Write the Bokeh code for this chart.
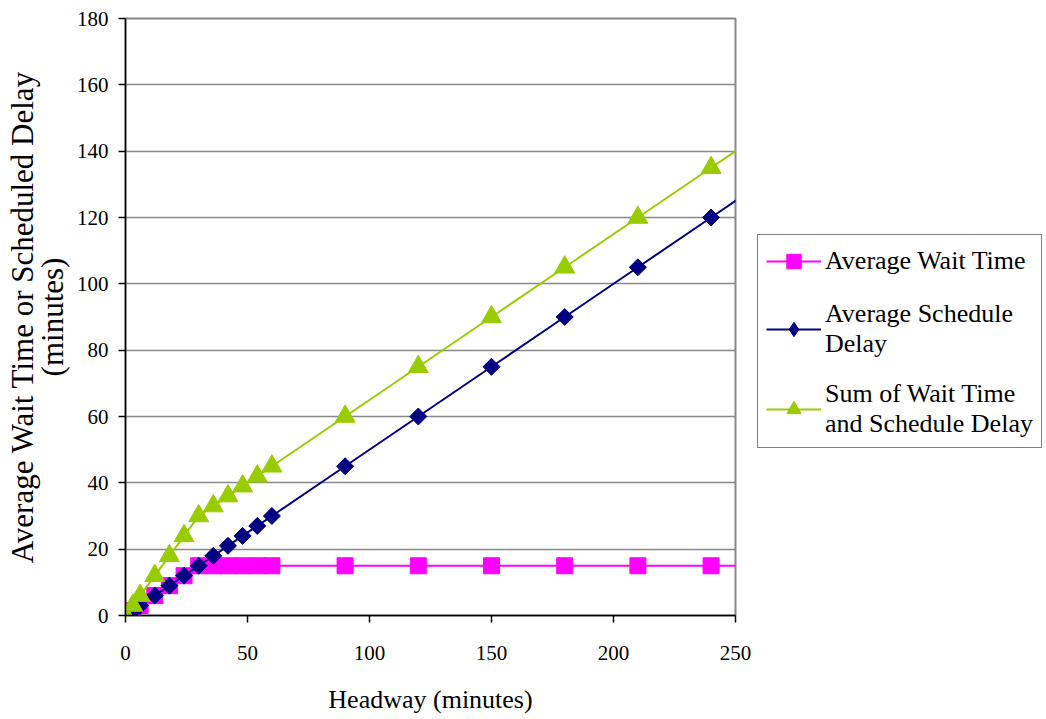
import math
from bokeh.plotting import figure
from bokeh.models import Range1d, Legend, LegendItem, FixedTicker
from bokeh.embed import file_html
from bokeh.resources import INLINE

headway = [0, 3, 6, 12, 18, 24, 30, 36, 42, 48, 54, 60, 90, 120, 150, 180, 210, 240, 270]
avg_wait = [0, 1.5, 3, 6, 9, 12, 15, 15, 15, 15, 15, 15, 15, 15, 15, 15, 15, 15, 15]
avg_delay = [0, 1.5, 3, 6, 9, 12, 15, 18, 21, 24, 27, 30, 45, 60, 75, 90, 105, 120, 135]
sum_total = [0, 3, 6, 12, 18, 24, 30, 33, 36, 39, 42, 45, 60, 75, 90, 105, 120, 135, 150]

x_ticks = [0, 50, 100, 150, 200, 250]
y_ticks = [0, 20, 40, 60, 80, 100, 120, 140, 160, 180]

FONT = "Liberation Serif"

p = figure(frame_width=610, frame_height=597, output_backend="svg", toolbar_location=None,
           x_range=Range1d(0, 250), y_range=Range1d(0, 180),
           min_border_left=125, min_border_right=307, min_border_top=18, min_border_bottom=96)
p.background_fill_color = "white"
p.border_fill_color = "white"
p.outline_line_color = "#888888"
p.outline_line_width = 2

p.xgrid.visible = False
p.ygrid.grid_line_color = "#888888"
p.ygrid.grid_line_width = 1.5
p.ygrid.ticker = FixedTicker(ticks=y_ticks)

for ax in (p.xaxis[0], p.yaxis[0]):
    ax.axis_line_color = "black"
    ax.axis_line_width = 1.5
    ax.major_tick_line_color = "black"
    ax.major_tick_line_width = 1.5
    ax.major_tick_in = 0
    ax.major_tick_out = 7
    ax.minor_tick_line_color = None
    ax.major_label_text_font = FONT
    ax.major_label_text_font_size = "21px"
    ax.major_label_text_color = "black"
    ax.axis_label_text_font = FONT
    ax.axis_label_text_font_style = "normal"
    ax.axis_label_text_color = "black"

p.xaxis.ticker = FixedTicker(ticks=x_ticks)
p.yaxis.ticker = FixedTicker(ticks=y_ticks)
p.xaxis.major_label_standoff = 23
p.yaxis.major_label_standoff = 10
p.xaxis.axis_label = "Headway (minutes)"
p.xaxis.axis_label_text_font_size = "26px"
p.xaxis.axis_label_standoff = 22
p.yaxis.axis_label = "Average Wait Time or Scheduled Delay\n(minutes)"
p.yaxis.axis_label_text_font_size = "31px"
p.yaxis.axis_label_text_line_height = 0.87
p.yaxis.axis_label_standoff = 4

PINK = "#FF00FF"
NAVY = "#000080"
GREEN = "#99CC00"

l1 = p.line(headway, avg_wait, line_color=PINK, line_width=2)
m1 = p.scatter(headway, avg_wait, marker="square", size=16, fill_color=PINK, line_color=PINK)
l2 = p.line(headway, avg_delay, line_color=NAVY, line_width=2)
m2 = p.scatter(headway, avg_delay, marker="square", angle=math.pi / 4, size=12,
               fill_color=NAVY, line_color=NAVY)
l3 = p.line(headway, sum_total, line_color=GREEN, line_width=2)
m3 = p.scatter(headway, sum_total, marker="triangle", size=20, fill_color=GREEN, line_color=GREEN)
# legend-only icon for the diamond series (never visible in the plot)
m2_icon = p.scatter([float("nan")], [float("nan")], marker="diamond", size=20,
                    fill_color=NAVY, line_color=NAVY)

legend = Legend(items=[
    LegendItem(label="Average Wait Time", renderers=[l1, m1]),
    LegendItem(label="Average Schedule\nDelay", renderers=[l2, m2_icon]),
    LegendItem(label="Sum of Wait Time\nand Schedule Delay", renderers=[l3, m3]),
], location=(22, 167))
legend.label_text_font = FONT
legend.label_text_font_size = "26px"
legend.label_text_color = "black"
legend.border_line_color = "black"
legend.border_line_width = 1
legend.background_fill_color = "white"
legend.background_fill_alpha = 1
legend.glyph_width = 55
legend.glyph_height = 36
legend.label_standoff = 4
legend.padding = 8
legend.spacing = 20
legend.margin = 0
p.add_layout(legend, "right")

open("out.html", "w").write(file_html(p, INLINE))
